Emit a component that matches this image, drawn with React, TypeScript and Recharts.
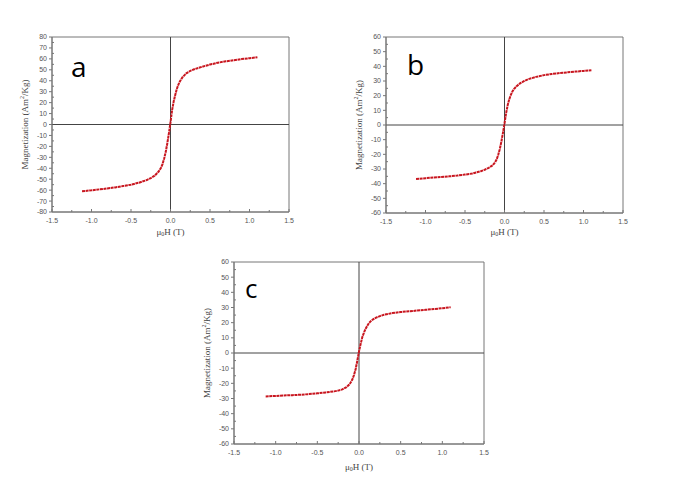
import React from "react";
import { LineChart, Line, XAxis, YAxis, ReferenceLine, ReferenceArea } from "recharts";

// applied field mu0H (T), shared by all three samples
const fieldT = [
  -1.12, -1.0, -0.9, -0.8, -0.7, -0.6, -0.5, -0.4, -0.3, -0.25, -0.2, -0.15,
  -0.12, -0.1, -0.08, -0.06, -0.04, -0.02, 0, 0.02, 0.04, 0.06, 0.08, 0.1,
  0.12, 0.15, 0.2, 0.25, 0.3, 0.4, 0.5, 0.6, 0.7, 0.8, 0.9, 1.0, 1.1,
];

// magnetization (Am²/Kg)
const sampleA = [
  -61, -60.2, -59.3, -58.5, -57.5, -56.3, -55, -53.2, -50.8, -49, -46.8, -43,
  -39.5, -36, -31, -25, -17, -8, 2, 13, 21, 27, 32.5, 36.5, 39.5, 43, 46.8,
  49, 50.5, 52.8, 54.8, 56.5, 57.8, 58.8, 59.8, 60.6, 61.5,
];
const sampleB = [
  -36.8, -36.3, -35.8, -35.4, -35, -34.5, -33.8, -33, -31.5, -30.5, -29.2,
  -27.5, -25.5, -23.5, -20.5, -16.5, -11.5, -5.5, 1, 8, 13.5, 17.5, 20.5, 22.8,
  24.5, 26.3, 28.5, 30, 31.2, 32.8, 34, 34.8, 35.4, 35.9, 36.4, 36.9, 37.4,
];
const sampleC = [
  -28.6, -28.3, -28, -27.8, -27.5, -27.1, -26.6, -26, -25.3, -24.8, -24, -22.5,
  -21, -19.5, -17.5, -14.5, -10.5, -5, 1, 6, 10.5, 13.5, 16, 18, 19.8, 21.5,
  23.2, 24.3, 25.2, 26.3, 27, 27.5, 28, 28.5, 29, 29.5, 30.2,
];

const xTicks = [
  -1.5, -1.25, -1, -0.75, -0.5, -0.25, 0, 0.25, 0.5, 0.75, 1, 1.25, 1.5,
];
const yTicks80 = Array.from({ length: 33 }, (_, i) => -80 + i * 5);
const yTicks60 = Array.from({ length: 25 }, (_, i) => -60 + i * 5);

const RED = "#c8161f";
const FRAME = "#777";
const TICK_TEXT = "#555";

const XTick = (props: any) => {
  const { x, y, payload } = props;
  const v = payload.value;
  const major = Math.abs(v * 2 - Math.round(v * 2)) < 1e-6;
  return (
    <g>
      <line x1={x} x2={x} y1={y} y2={y - (major ? 3 : 2)} stroke={FRAME} />
      {major && (
        <text
          x={x}
          y={y + 11}
          textAnchor="middle"
          fontSize={7}
          fontFamily="Liberation Sans"
          fill={TICK_TEXT}
        >
          {v.toFixed(1)}
        </text>
      )}
    </g>
  );
};

const YTick = (props: any) => {
  const { x, y, payload } = props;
  const v = payload.value;
  const major = v % 10 === 0;
  return (
    <g>
      {major ? (
        <line x1={x - 3} x2={x} y1={y} y2={y} stroke={FRAME} />
      ) : (
        <line x1={x} x2={x + 2} y1={y} y2={y} stroke={FRAME} />
      )}
      {major && (
        <text
          x={x - 5}
          y={y}
          dy="0.35em"
          textAnchor="end"
          fontSize={7}
          fontFamily="Liberation Sans"
          fill={TICK_TEXT}
        >
          {v}
        </text>
      )}
    </g>
  );
};

const yTitle = ({ viewBox }: any) => {
  const cx = viewBox.x + 3;
  const cy = viewBox.y + viewBox.height / 2;
  return (
    <text
      x={cx}
      y={cy}
      transform={`rotate(-90 ${cx} ${cy})`}
      textAnchor="middle"
      dominantBaseline="central"
      fontSize={9}
      fontFamily="Liberation Serif"
      fill="#444"
    >
      <tspan>Magnetization (Am</tspan>
      <tspan dy={-3} fontSize={6}>
        2
      </tspan>
      <tspan dy={3}>/Kg)</tspan>
    </text>
  );
};

const xTitle = (drop: number) => ({ viewBox }: any) => {
  const cx = viewBox.x + viewBox.width / 2;
  const cy = viewBox.y + drop;
  return (
    <text
      x={cx}
      y={cy}
      textAnchor="middle"
      dominantBaseline="central"
      fontSize={9}
      fontFamily="Liberation Serif"
      fill="#444"
    >
      <tspan>μ</tspan>
      <tspan dy={2} fontSize={6}>
        0
      </tspan>
      <tspan dy={-2}>H (T)</tspan>
    </text>
  );
};

interface PanelProps {
  values: number[];
  yMax: number;
  yTicks: number[];
  width: number;
  height: number;
  margin: { top: number; right: number; bottom: number; left: number };
  titleDrop: number;
}

const Panel = ({ values, yMax, yTicks, width, height, margin, titleDrop }: PanelProps) => {
  const data = fieldT.map((h, i) => ({ h, m: values[i] }));
  return (
    <LineChart width={width} height={height} data={data} margin={margin}>
      <XAxis
        dataKey="h"
        type="number"
        domain={[-1.5, 1.5]}
        ticks={xTicks}
        interval={0}
        tickSize={0}
        tickMargin={0}
        tickLine={false}
        tick={<XTick />}
        height={20}
        stroke={FRAME}
        label={{ content: xTitle(titleDrop) }}
      />
      <YAxis
        type="number"
        domain={[-yMax, yMax]}
        ticks={yTicks}
        interval={0}
        tickSize={0}
        tickMargin={0}
        tickLine={false}
        tick={<YTick />}
        width={30}
        stroke={FRAME}
        label={{ content: yTitle }}
      />
      {/* plot frame */}
      <ReferenceArea
        x1={-1.5}
        x2={1.5}
        y1={-yMax}
        y2={yMax}
        fill="none"
        fillOpacity={0}
        stroke={FRAME}
        strokeOpacity={1}
      />
      <ReferenceLine x={0} stroke="#444" />
      <ReferenceLine y={0} stroke="#444" />
      <Line
        dataKey="m"
        type="linear"
        stroke={RED}
        strokeWidth={2}
        strokeDasharray="3 0.6"
        dot={false}
        isAnimationActive={false}
      />
    </LineChart>
  );
};

const letterStyle: React.CSSProperties = {
  position: "absolute",
  fontFamily: "Open Sans",
  color: "#000",
  lineHeight: "28px",
};

export default function App() {
  return (
    <div
      style={{
        position: "absolute",
        left: 0,
        top: 0,
        width: 685,
        height: 478,
        background: "#fff",
        overflow: "hidden",
      }}
    >
      <div style={{ position: "absolute", left: 0, top: 0 }}>
        <Panel
          values={sampleA}
          yMax={80}
          yTicks={yTicks80}
          width={300}
          height={245}
          margin={{ top: 37, right: 11, bottom: 13, left: 22 }}
          titleDrop={20}
        />
      </div>
      <div style={{ position: "absolute", left: 330, top: 0 }}>
        <Panel
          values={sampleB}
          yMax={60}
          yTicks={yTicks60}
          width={310}
          height={245}
          margin={{ top: 37, right: 17, bottom: 12, left: 26 }}
          titleDrop={19}
        />
      </div>
      <div style={{ position: "absolute", left: 190, top: 245 }}>
        <Panel
          values={sampleC}
          yMax={60}
          yTicks={yTicks60}
          width={310}
          height={233}
          margin={{ top: 17, right: 16, bottom: 14, left: 14 }}
          titleDrop={23}
        />
      </div>
      <div style={{ ...letterStyle, left: 71, top: 52, fontSize: 28 }}>a</div>
      <div style={{ ...letterStyle, left: 407, top: 50, fontSize: 28 }}>b</div>
      <div style={{ ...letterStyle, left: 245, top: 274, fontSize: 26 }}>c</div>
    </div>
  );
}
